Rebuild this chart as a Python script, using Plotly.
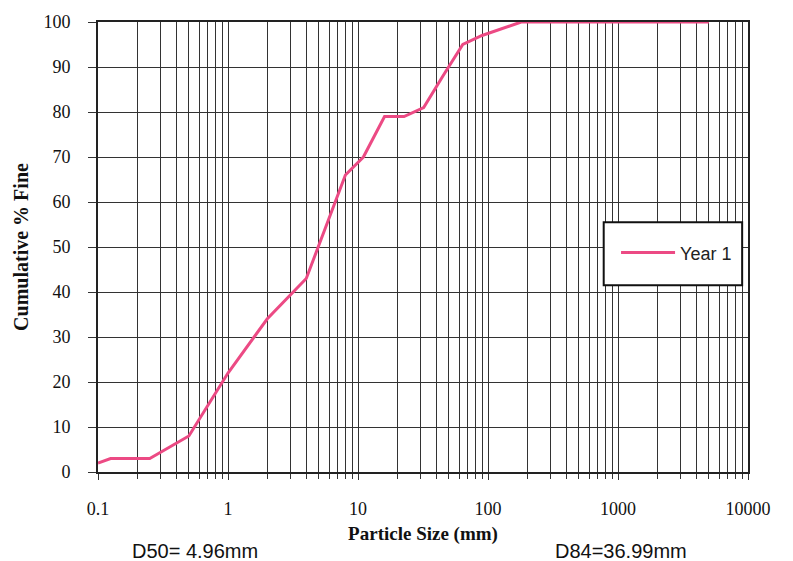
import plotly.graph_objects as go

# Particle size (mm) and cumulative % finer
sizes = [0.1, 0.125, 0.25, 0.5, 1, 2, 4, 8, 11, 16, 22.6, 32, 45, 64, 90, 180, 5000]
pct_fine = [2, 3, 3, 8, 22, 34, 43, 66, 70, 79, 79, 81, 88, 95, 97, 100, 100]

x_tickvals = [0.1, 1, 10, 100, 1000, 10000]
x_ticktext = ["0.1", "1", "10", "100", "1000", "10000"]
y_tickvals = list(range(0, 101, 10))

series_name = "Year 1"
d50_text = "D50= 4.96mm"
d84_text = "D84=36.99mm"

pink = "#EC4A84"
grid = "#333333"
serif = "Times New Roman, Liberation Serif, serif"
sans = "Arial, Liberation Sans, sans-serif"

fig = go.Figure()
fig.add_trace(go.Scatter(
    x=sizes, y=pct_fine, mode="lines", name=series_name,
    line=dict(color=pink, width=3),
))

fig.update_layout(
    width=793, height=561,
    margin=dict(l=98, r=45, t=14, b=89),
    paper_bgcolor="white", plot_bgcolor="white",
    showlegend=True,
    legend=dict(x=0.797, y=0.487, xanchor="left", yanchor="middle",
                bgcolor="rgba(0,0,0,0)", borderwidth=0,
                font=dict(family=sans, size=18, color="#222"),
                itemwidth=54),
    xaxis=dict(
        type="log", range=[-1, 4],
        tickvals=x_tickvals, ticktext=x_ticktext,
        showgrid=True, gridcolor=grid, gridwidth=1.4,
        minor=dict(dtick="D1", showgrid=True, gridcolor=grid, gridwidth=1.2,
                   ticks="outside", ticklen=5, tickcolor=grid),
        ticks="outside", ticklen=6, tickcolor=grid,
        ticklabelstandoff=14,
        showline=True, linecolor="#222", linewidth=1.6, mirror=True,
        tickfont=dict(family=serif, size=18, color="#111"),
        title=dict(text="<b>Particle Size (mm)</b>", standoff=8,
                   font=dict(family=serif, size=19, color="#111")),
        zeroline=False,
    ),
    yaxis=dict(
        range=[0, 100], tickvals=y_tickvals,
        showgrid=True, gridcolor=grid, gridwidth=1.4,
        ticks="outside", ticklen=8, tickcolor=grid,
        ticklabelstandoff=14,
        showline=True, linecolor="#222", linewidth=1.6, mirror=True,
        tickfont=dict(family=serif, size=18, color="#111"),
        title=dict(text="<b>Cumulative % Fine</b>", standoff=10,
                   font=dict(family=serif, size=20, color="#111")),
        zeroline=False,
    ),
    shapes=[dict(type="rect", xref="paper", yref="paper",
                 x0=0.778, x1=0.991, y0=0.415, y1=0.555,
                 line=dict(color="#111", width=2), fillcolor="white", layer="above")],
    annotations=[
        dict(text=d50_text, xref="paper", yref="paper", x=0.049, y=-0.175,
             xanchor="left", yanchor="middle", showarrow=False,
             font=dict(family=sans, size=20, color="#111")),
        dict(text=d84_text, xref="paper", yref="paper", x=0.7, y=-0.175,
             xanchor="left", yanchor="middle", showarrow=False,
             font=dict(family=sans, size=20, color="#111")),
    ],
)

fig.write_html("out.html")
